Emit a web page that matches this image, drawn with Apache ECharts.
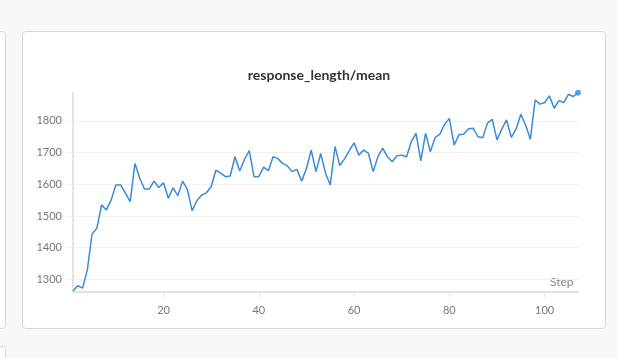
<!DOCTYPE html>
<html>
<head>
<meta charset="utf-8">
<script src="https://cdn.jsdelivr.net/npm/echarts@6/dist/echarts.min.js"></script>
<style>
  html, body { margin: 0; padding: 0; width: 617px; height: 358px; overflow: hidden; background: #f8f8f8; }
  .panel { position: absolute; background: #fff; border: 1px solid #d6d6d6; border-radius: 4px; box-sizing: border-box; }
  #chart { position: absolute; left: 0; top: 0; width: 617px; height: 358px; }
</style>
</head>
<body>
<div class="panel" style="left:-10px; top:31px; width:16px; height:298px;"></div>
<div class="panel" style="left:-10px; top:346px; width:16px; height:40px;"></div>
<div class="panel" style="left:22px; top:31px; width:584px; height:298px;"></div>
<div id="chart"></div>
<script>
const chartTitle = 'response_length/mean';
const xName = 'Step';
const steps = [];
for (let i = 1; i <= 107; i++) steps.push(i);
const responseLength = [
  1263, 1280, 1272, 1329, 1443, 1461, 1535, 1519, 1550, 1598,
  1598, 1572, 1545, 1666, 1619, 1585, 1585, 1610, 1590, 1605,
  1556, 1589, 1564, 1610, 1584, 1517, 1548, 1566, 1573, 1592,
  1645, 1635, 1624, 1626, 1687, 1642, 1679, 1706, 1624, 1624,
  1654, 1643, 1687, 1681, 1666, 1658, 1640, 1647, 1610, 1650,
  1708, 1640, 1697, 1635, 1598, 1719, 1659, 1680, 1706, 1731,
  1692, 1708, 1698, 1640, 1687, 1714, 1687, 1671, 1690, 1692,
  1686, 1734, 1761, 1674, 1761, 1703, 1747, 1758, 1789, 1808,
  1724, 1756, 1758, 1775, 1777, 1750, 1747, 1793, 1805, 1740,
  1774, 1803, 1748, 1774, 1821, 1787, 1742, 1866, 1853, 1858,
  1879, 1840, 1864, 1858, 1884, 1877, 1889
];
const yTicks = [1300, 1400, 1500, 1600, 1700, 1800];
const xTicks = [20, 40, 60, 80, 100];

const lineData = steps.map((s, i) => [s, responseLength[i]]);
const lastPoint = [lineData[lineData.length - 1]];

const chart = echarts.init(document.getElementById('chart'), null, { renderer: 'canvas' });
chart.setOption({
  animation: false,
  backgroundColor: 'transparent',
  title: {
    text: chartTitle,
    left: 314, top: 63, textAlign: 'center',
    textStyle: { fontFamily: 'Lato', fontSize: 14, fontWeight: 'bold', color: '#333' }
  },
  graphic: [{
    type: 'text', left: 550, top: 276,
    style: { text: xName, fill: '#888', font: '12px Lato' }
  }],
  grid: { left: 73, right: 39, top: 92.4, bottom: 66, containLabel: false },
  xAxis: {
    type: 'value', min: 1, max: 107,
    axisLine: { show: true, lineStyle: { color: '#e3e3e3', width: 2 } },
    axisTick: { show: true, customValues: xTicks, length: 5, lineStyle: { color: '#e3e3e3' } },
    axisLabel: { customValues: xTicks, color: '#777', fontFamily: 'Lato', fontSize: 11, margin: 13,
      formatter: v => String(v) },
    splitLine: { show: false }
  },
  yAxis: {
    type: 'value', min: 1260, max: 1890,
    axisLine: { show: true, lineStyle: { color: '#e3e3e3', width: 2 } },
    axisTick: { show: true, customValues: yTicks, length: 6, lineStyle: { color: '#efefef' } },
    axisLabel: { customValues: yTicks, color: '#777', fontFamily: 'Lato', fontSize: 11, margin: 11,
      formatter: v => String(v) },
    splitLine: { show: true, lineStyle: { color: '#f0f0f0', width: 1 } }
  },
  series: [{
    type: 'line', data: lineData, showSymbol: false,
    lineStyle: { color: '#3a8bd9', width: 1.5 }, itemStyle: { color: '#3a8bd9' }
  }, {
    type: 'scatter', data: lastPoint, symbol: 'circle', symbolSize: 6,
    itemStyle: { color: '#3a8bd9' }
  }]
});
</script>
</body>
</html>
